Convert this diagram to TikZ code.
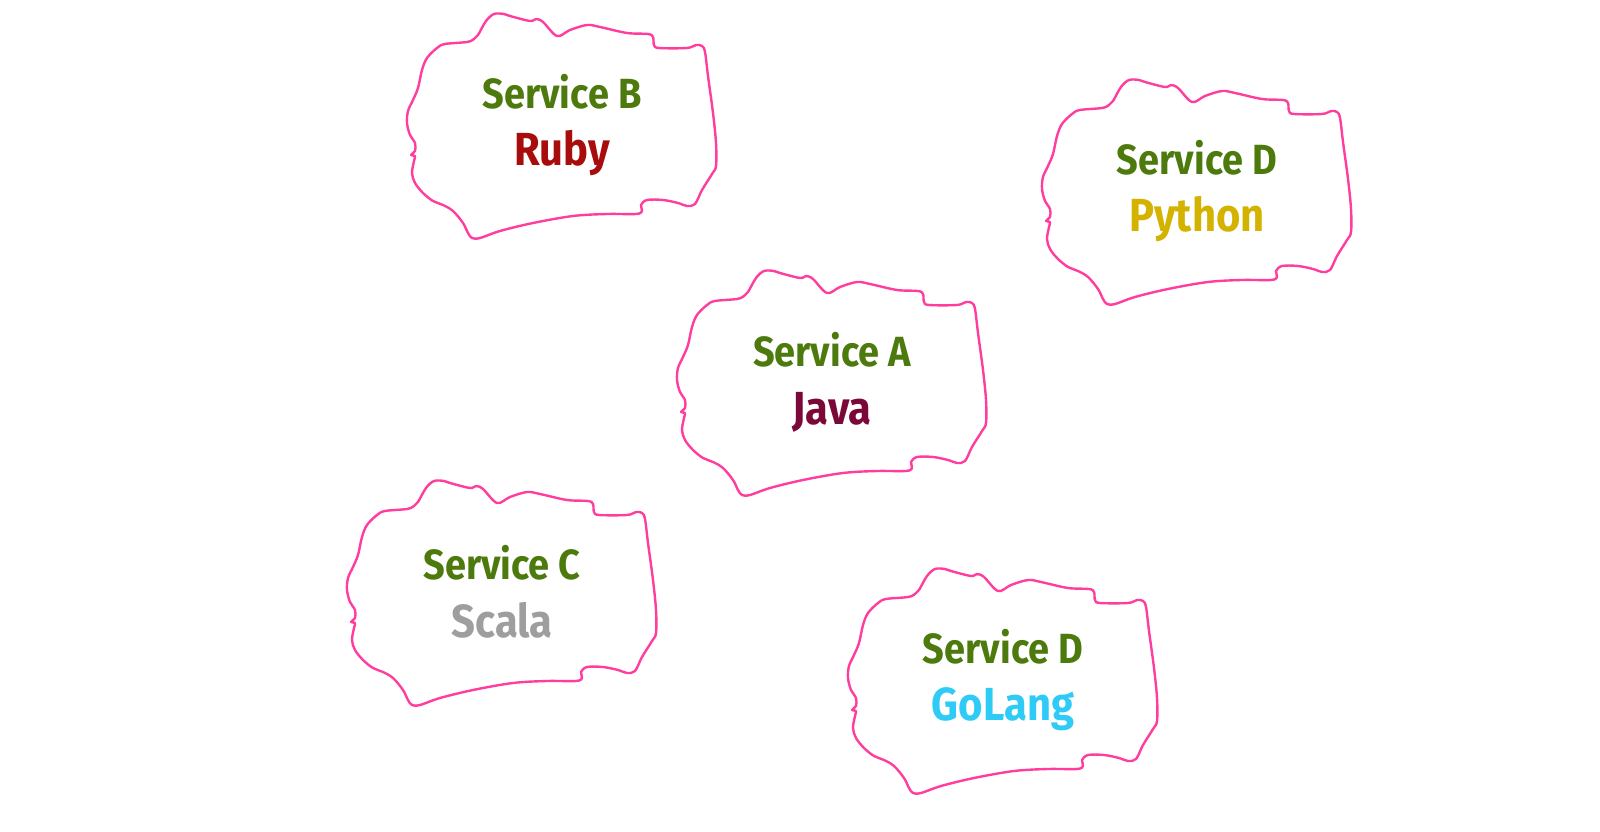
\documentclass[tikz,border=0pt]{standalone}
\usepackage{fontspec}
\setmainfont{Fira Sans}[UprightFont=* Bold, FakeStretch=0.9]
\usetikzlibrary{positioning}
\definecolor{blobpink}{HTML}{FF3D9E}
\definecolor{svcgreen}{HTML}{4D7A0C}
\definecolor{rubyred}{HTML}{A80C0C}
\definecolor{javared}{HTML}{7A0838}
\definecolor{pyyellow}{HTML}{D4B300}
\definecolor{scalagray}{HTML}{9E9E9E}
\definecolor{gocyan}{HTML}{2FCBF7}
\newcommand{\lang}[2]{{\fontsize{33}{41}\selectfont\textcolor{#1}{#2}}}
\tikzset{
  svc/.style={align=center,text=svcgreen,inner sep=0pt,font={\fontsize{30}{41}\selectfont}},
  blobline/.style={draw=blobpink,line width=1.7pt,line join=round},
  blob/.pic={
    \draw[blobline] plot[smooth cycle,tension=0.55] coordinates {
      (-84,-90) (-76,-104) (-68,-111) (-58,-111) (-52,-109) (-32,-104) (-26,-106) (-19,-103)
      (-5,-89) (8,-95) (25,-100) (38,-98) (65,-92) (86,-91) (91,-88)
      (92,-80) (97,-77) (125,-77) (134,-80) (140,-79) (143,-73)
      (146,-49) (151,-12) (154,18) (154,41) (150,49) (140,65) (133,79)
      (125,81) (116,78) (101,75) (85,75) (79,80) (80,86) (74,89)
      (45,89) (11,91) (-29,98) (-62,106) (-82,113) (-90,113) (-94,108)
      (-99,98) (-109,86) (-119,80) (-129,76) (-139,68) (-147,58)
      (-150,48) (-148,36) (-147,31) (-151,30) (-147,26) (-147,18)
      (-152,10) (-155,-2) (-154,-14) (-149,-25) (-144,-37) (-140,-55)
      (-135,-67) (-125,-77) (-117,-81) (-95,-83) (-88,-86)};
  },
}
\begin{document}
\begin{tikzpicture}[x=0.25mm,y=-0.25mm]
  \useasboundingbox[fill=white] (0,0) rectangle (1600,832);

  \node[svc] (svcA) at (832,382) {Service A\\\lang{javared}{Java}};
  \node[svc] (svcB) at (562,125) {Service B\\\lang{rubyred}{Ruby}};
  \node[svc] (svcD) at (1197,191) {Service D\\\lang{pyyellow}{Python}};
  \node[svc] (svcC) at (502,592) {Service C\\\lang{scalagray}{Scala}};
  \node[svc] (svcG) at (1003,680) {Service D\\\lang{gocyan}{GoLang}};

  \foreach \s in {svcA,svcB,svcC,svcD,svcG}
    \pic at (\s.center) {blob};
\end{tikzpicture}
\end{document}
